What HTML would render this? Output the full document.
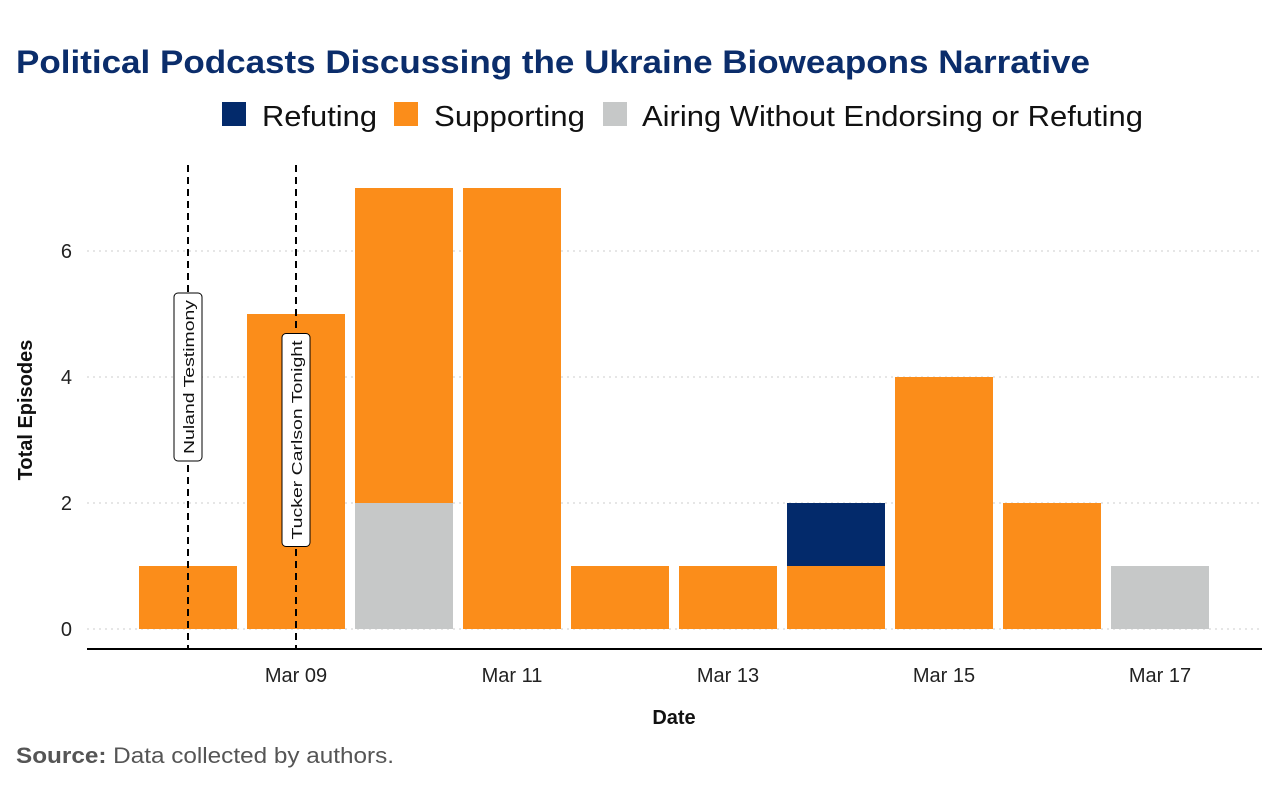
<!DOCTYPE html>
<html><head><meta charset="utf-8"><style>
body{margin:0;background:#fff;font-family:"Liberation Sans",sans-serif;}
svg text{font-family:"Liberation Sans",sans-serif;}
</style></head><body>
<svg id="chart" width="1280" height="800" xmlns="http://www.w3.org/2000/svg">
<text x="16" y="73" font-size="32" font-weight="bold" fill="#0b2d6b" textLength="1074" lengthAdjust="spacingAndGlyphs">Political Podcasts Discussing the Ukraine Bioweapons Narrative</text>
<g>
<rect x="222" y="102" width="24" height="24" fill="#032a6b"/>
<text x="262" y="126" font-size="29" fill="#111" textLength="115" lengthAdjust="spacingAndGlyphs">Refuting</text>
<rect x="394" y="102" width="24" height="24" fill="#fb8d1a"/>
<text x="434" y="126" font-size="29" fill="#111" textLength="151" lengthAdjust="spacingAndGlyphs">Supporting</text>
<rect x="603" y="102" width="24" height="24" fill="#c6c8c8"/>
<text x="642" y="126" font-size="29" fill="#111" textLength="501" lengthAdjust="spacingAndGlyphs">Airing Without Endorsing or Refuting</text>
</g>
<g id="grid"></g>
<g id="bars"></g>
<g id="annot"></g>
<line x1="87" y1="649" x2="1262" y2="649" stroke="#000" stroke-width="2"/>
<g id="xticks"></g>
<g id="yticks"></g>
<text x="674" y="724" font-size="20" font-weight="bold" text-anchor="middle" fill="#111">Date</text>
<text transform="translate(32,410) rotate(-90)" font-size="20" font-weight="bold" text-anchor="middle" fill="#111">Total Episodes</text>
<text x="16" y="763" font-size="22" fill="#555" textLength="378" lengthAdjust="spacingAndGlyphs"><tspan font-weight="bold">Source:</tspan> Data collected by authors.</text>
</svg>
<script>
const days = ["Mar 08","Mar 09","Mar 10","Mar 11","Mar 12","Mar 13","Mar 14","Mar 15","Mar 16","Mar 17"];
const airing = [0,0,2,0,0,0,0,0,0,1];
const supporting = [1,5,5,7,1,1,1,4,2,0];
const refuting = [0,0,0,0,0,0,1,0,0,0];
const yTicks = [0,2,4,6];
const xTickLabels = ["Mar 09","Mar 11","Mar 13","Mar 15","Mar 17"];
const xTickIdx = [1,3,5,7,9];
const events = [{label:"Nuland Testimony", idx:0, y:4.0, len:168},{label:"Tucker Carlson Tonight", idx:1, y:3.0, len:213}];

const NS="http://www.w3.org/2000/svg";
const x = i => 188 + i*108;
const y = v => 629 - v*63;
const bw = 98;
function mk(tag, attrs, parent){const e=document.createElementNS(NS,tag);for(const k in attrs)e.setAttribute(k,attrs[k]);parent.appendChild(e);return e;}
const grid=document.getElementById('grid'), bars=document.getElementById('bars'), annot=document.getElementById('annot'), xt=document.getElementById('xticks'), yt=document.getElementById('yticks');
yTicks.forEach(t=>{
  const l=mk('line',{x1:87,x2:1262,y1:y(t),y2:y(t),stroke:'#ccc','stroke-width':1,'stroke-dasharray':'2,4'},grid);
  
  
  const tx=mk('text',{x:72,y:y(t)+7,'font-size':20,'text-anchor':'end',fill:'#222'},yt);
  tx.textContent=t;
  
  
});
xTickLabels.forEach((lab,k)=>{
  const tx=mk('text',{x:x(xTickIdx[k]),y:682,'font-size':20,'text-anchor':'middle',fill:'#222'},xt);
  tx.textContent=lab;
  
  
});
const series=[[airing,'#c6c8c8','airing'],[supporting,'#fb8d1a','supporting'],[refuting,'#032a6b','refuting']];
days.forEach((d,i)=>{
  let base=0;
  series.forEach(([arr,col,nm])=>{
    const v=arr[i]; if(v<=0) return;
    const r=mk('rect',{x:x(i)-bw/2,y:y(base+v),width:bw,height:y(base)-y(base+v),fill:col},bars);
    
    
    base+=v;
  });
});
events.forEach(ev=>{
  const cx=x(ev.idx);
  const l=mk('line',{x1:cx,x2:cx,y1:165,y2:649,stroke:'#000','stroke-width':2,'stroke-dasharray':'7,5'},annot);
  
  
  const cy=y(ev.y);
  const len=ev.len;
  const r=mk('rect',{x:cx-14,y:cy-len/2,width:28,height:len,rx:4,fill:'#fff',stroke:'#000','stroke-width':1},annot);
  
  
  const t=mk('text',{transform:`translate(${cx+6},${cy}) rotate(-90)`,'font-size':15,'text-anchor':'middle',fill:'#111',textLength:len-14,lengthAdjust:'spacingAndGlyphs'},annot);
  t.textContent=ev.label;
  
  
});
</script>
</body></html>
